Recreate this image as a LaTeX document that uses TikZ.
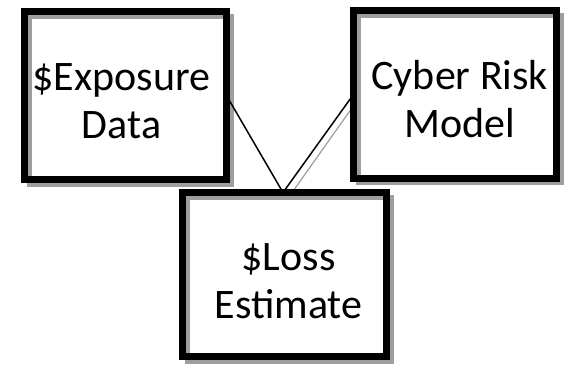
\documentclass[tikz,border=0pt]{standalone}
\usepackage{fontspec}
\setmainfont{Carlito}
\usetikzlibrary{backgrounds}
\definecolor{shadowgray}{HTML}{9E9E9E}
\tikzset{
  box/.style={draw=black, line width=7pt, rectangle, inner sep=0pt, outer sep=0pt},
  boxtext/.style={inner sep=0pt, align=center, font=\fontsize{42}{48}\selectfont},
  boxshadow/.style={draw=shadowgray, line width=5pt},
  link/.style={draw=black, line width=1.5pt},
  linkshadow/.style={draw=shadowgray, line width=1.2pt}
}
\begin{document}
\begin{tikzpicture}[x=1pt, y=-1pt]
  \useasboundingbox (0,0) rectangle (565,365);

  % the three boxes
  \node[box, minimum width=202pt, minimum height=168pt] (exposure) at (125.5,95.6) {};
  \node[box, minimum width=202.5pt, minimum height=167.5pt] (model) at (454.8,94.3) {};
  \node[box, minimum width=204pt, minimum height=164pt] (loss) at (284.5,274.5) {};

  % their texts
  \node[boxtext] (exposure-text) at ([shift={(-4,6)}]exposure.center) {\$Exposure\\Data};
  \node[boxtext] (model-text) at ([shift={(5,5)}]model.center) {Cyber Risk\\Model};
  \node[boxtext] (loss-text) at ([shift={(4,7)}]loss.center) {\$Loss\\Estimate};

  % offset grey outlines behind each box, plus the shadow of the right link
  \begin{scope}[on background layer]
    \foreach \b in {exposure,model,loss}{
      \draw[boxshadow] ([shift={(5,4.5)}]\b.north west) rectangle ([shift={(5,4.5)}]\b.south east);
    }
    \draw[linkshadow] ([shift={(4.5,5)}]model.west) -- ([shift={(5.5,3)}]loss.north);
  \end{scope}

  % links into the loss estimate
  \draw[link] (exposure.east) -- ([xshift=-1.5pt]loss.north);
  \draw[link] (model.west) -- ([xshift=-1.5pt]loss.north);
\end{tikzpicture}
\end{document}
